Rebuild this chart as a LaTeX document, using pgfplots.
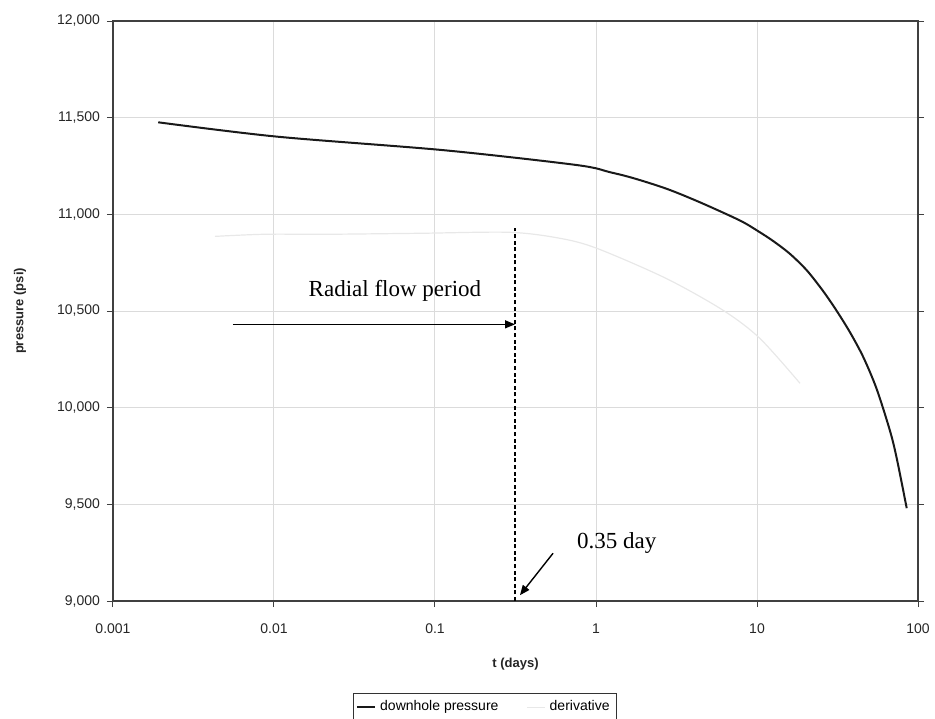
\documentclass[border=0pt]{standalone}
\usepackage{fontspec}
\setmainfont{Liberation Sans}
\newfontfamily\timesfont{Liberation Serif}
\usepackage{pgfplots}
\pgfplotsset{compat=1.18}
\usetikzlibrary{arrows.meta}

\begin{document}
\begin{tikzpicture}
% page frame = 935 x 718 px at 0.5pt per px
\useasboundingbox (-56.5pt,-58.5pt) rectangle (411pt,300.5pt);
\begin{axis}[
    at={(0pt,0pt)}, anchor=south west,
    scale only axis,
    width=402.5pt, height=290pt,
    xmode=log,
    xmin=0.001, xmax=100,
    ymin=9000, ymax=12000,
    xtick={0.001,0.01,0.1,1,10,100},
    xticklabels={0.001,0.01,0.1,1,10,100},
    xminorticks=false,
    ytick={9000,9500,10000,10500,11000,11500,12000},
    yticklabels={{9,000},{9,500},{10,000},{10,500},{11,000},{11,500},{12,000}},
    scaled y ticks=false,
    xtick pos=bottom,
    ytick pos=both,
    tick align=outside,
    major tick length=3pt,
    tick style={black!75, line width=0.5pt},
    axis line style={black!75, line width=0.8pt},
    grid=major,
    major grid style={black!14, line width=0.5pt},
    tick label style={font=\fontsize{7}{8}\selectfont, black!85},
    xticklabel style={yshift=-5pt},
    xlabel={t (days)},
    ylabel={pressure (psi)},
    label style={font=\fontsize{6.5}{8}\selectfont\bfseries, black!85},
    xlabel style={at={(axis description cs:0.5,-0.1086)}, anchor=center},
    ylabel style={at={(axis description cs:-0.1155,0.5)}, anchor=center},
    legend style={
        at={(axis description cs:0.462,-0.159)}, anchor=north,
        legend columns=2,
        draw=black!80, line width=0.5pt,
        font=\fontsize{7}{8}\selectfont,
        inner sep=1.5pt,
        /tikz/every even column/.append style={column sep=12pt},
    },
    legend image code/.code={\draw[#1] (0pt,0pt) -- (9pt,0pt);},
]

% downhole pressure
\addplot[black!90, line width=1pt, smooth] coordinates {
    (0.00191,11476) (0.0104,11402) (0.1126,11332) (0.759,11255)
    (1.22,11218) (1.71,11187) (2.75,11132) (4.43,11062)
    (7.84,10968) (10.2,10912) (12.6,10862) (16.0,10796)
    (20.4,10710) (25.8,10602) (31.3,10500) (37.8,10390)
    (45.7,10262) (55.3,10098) (67.0,9880) (73.7,9740) (85.1,9480)
};
\addlegendentry{downhole pressure}

% derivative (very faint in the original)
\addplot[black!9, line width=0.6pt, smooth] coordinates {
    (0.0043,10886) (0.00879,10897) (0.0223,10897) (0.0807,10902)
    (0.292,10907) (0.598,10876) (1.014,10824) (2.72,10669)
    (6.15,10504) (10.4,10359) (18.5,10126)
};
\addlegendentry{derivative}

% annotations
\draw[black, line width=0.8pt, dash pattern=on 2pt off 1.3pt]
    (axis cs:0.314,9000) -- (axis cs:0.314,10930);
\draw[black, line width=0.7pt, -{Triangle[length=5pt,width=4pt]}]
    (axis cs:0.00556,10431) -- (axis cs:0.314,10431);
\node[font=\timesfont\fontsize{11.5}{13}\selectfont] at (axis cs:0.0564,10602)
    {Radial flow period};
\draw[black, line width=0.7pt, -{Triangle[length=5pt,width=4pt]}]
    (axis cs:0.541,9247) -- (axis cs:0.337,9030);
\node[font=\timesfont\fontsize{11.5}{13}\selectfont, anchor=west] at (axis cs:0.69,9300)
    {0.35 day};
\end{axis}
\end{tikzpicture}
\end{document}
